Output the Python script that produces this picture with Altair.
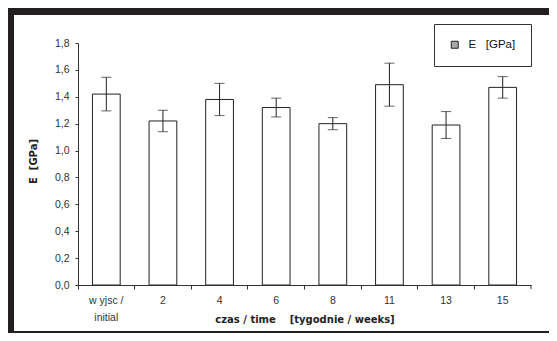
import altair as alt
import pandas as pd

categories = ["w yjsc /", "2", "4", "6", "8", "11", "13", "15"]
means = [1.42, 1.22, 1.38, 1.32, 1.20, 1.49, 1.19, 1.47]
errors = [0.125, 0.08, 0.12, 0.07, 0.045, 0.16, 0.10, 0.08]
y_ticks = [0.0, 0.2, 0.4, 0.6, 0.8, 1.0, 1.2, 1.4, 1.6, 1.8]
series_name = "E\u00a0\u00a0\u00a0[GPa]"
x_title = "czas / time\u00a0\u00a0\u00a0\u00a0[tygodnie / weeks]"
y_title = "E\u00a0\u00a0[GPa]"

df = pd.DataFrame({"cat": categories, "E": means, "err": errors})
df["lo"] = df["E"] - df["err"]
df["hi"] = df["E"] + df["err"]
df["series"] = series_name

W, H = 453, 242
TOTAL_W, TOTAL_H = 541, 325
PAD_L, PAD_T = 70, 35
INK = "#222222"
FRAME = "#231f20"
FONT = "Liberation Sans"
TFONT = "DejaVu Sans"

x_axis = alt.Axis(
    title=x_title,
    bandPosition=0,
    tickSize=4,
    labelAngle=0,
    labelPadding=6,
    labelLineHeight=17,
    labelExpr="datum.value == 'w yjsc /' ? ['w yjsc /', 'initial'] : datum.label",
    titleY=34,
    titleBaseline="middle",
    zindex=1,
)
y_axis = alt.Axis(
    values=y_ticks,
    labelExpr="replace(format(datum.value, '.1f'), '.', ',')",
    labelOverlap=False,
    tickSize=3,
    labelPadding=6,
    title=y_title,
    titleX=-45,
    titleY=118,
    titleAlign="center",
    titleBaseline="middle",
    zindex=1,
)
x_scale = alt.Scale(paddingInner=0, paddingOuter=0)
y_scale = alt.Scale(domain=[0, 1.8], nice=False, zero=True)


def X(**kw):
    return alt.X("cat:N", sort=categories, scale=x_scale, axis=x_axis, **kw)


def Y(field):
    return alt.Y(field, type="quantitative", scale=y_scale, axis=y_axis)


base = alt.Chart(df)
one = alt.Data(values=[{"a": 1}])

# page decoration: white sheet with a dark frame on top, left and bottom
sheet = alt.Chart(one).mark_rect(color="white").encode(
    x=alt.value(-PAD_L), x2=alt.value(TOTAL_W - PAD_L),
    y=alt.value(-PAD_T), y2=alt.value(TOTAL_H - PAD_T),
)
frame_top = alt.Chart(one).mark_rect(color=FRAME).encode(
    x=alt.value(-PAD_L), x2=alt.value(TOTAL_W - PAD_L),
    y=alt.value(-PAD_T), y2=alt.value(-PAD_T + 7),
)
frame_left = alt.Chart(one).mark_rect(color=FRAME).encode(
    x=alt.value(-PAD_L), x2=alt.value(-PAD_L + 6),
    y=alt.value(-PAD_T), y2=alt.value(TOTAL_H - PAD_T),
)
frame_bottom = alt.Chart(one).mark_rect(color=FRAME).encode(
    x=alt.value(-PAD_L), x2=alt.value(TOTAL_W - PAD_L),
    y=alt.value(TOTAL_H - PAD_T - 2), y2=alt.value(TOTAL_H - PAD_T),
)

bars = base.mark_bar(
    width=alt.RelativeBandSize(0.49), fill="white", stroke=INK, strokeWidth=1
).encode(x=X(), y=Y("E"))

err_rule = base.mark_rule(color=INK, strokeWidth=1).encode(
    x=X(), y=Y("lo"), y2="hi:Q"
)
cap_hi = base.mark_tick(color=INK, size=10, thickness=1).encode(x=X(), y=Y("hi"))
cap_lo = base.mark_tick(color=INK, size=10, thickness=1).encode(x=X(), y=Y("lo"))

end_tick = base.transform_filter(alt.datum.cat == categories[-1]).mark_rule(
    color="#333333", strokeWidth=1
).encode(
    x=X(bandPosition=1),
    y=alt.value(H),
    y2=alt.value(H + 4),
)

legend_layer = base.mark_square(opacity=0).encode(
    x=X(),
    y=Y("E"),
    color=alt.Color(
        "series:N",
        scale=alt.Scale(range=["#a8a8a8"]),
        legend=alt.Legend(
            title=None,
            orient="none",
            legendX=356,
            legendY=-19,
            padding=15,
            strokeColor="#333333",
            fillColor="white",
            cornerRadius=0,
            symbolType="square",
            symbolSize=49,
            symbolOpacity=1,
            symbolStrokeColor=INK,
            symbolStrokeWidth=1,
            labelFont=FONT,
            labelFontSize=11.5,
            labelColor="#111111",
            labelOffset=8,
        ),
    ),
)

chart = (
    alt.layer(
        sheet, frame_top, frame_left, frame_bottom,
        bars, err_rule, cap_hi, cap_lo, end_tick, legend_layer,
    )
    .properties(
        width=W,
        height=H,
        autosize=alt.AutoSizeParams(type="none"),
        padding={
            "left": PAD_L,
            "top": PAD_T,
            "right": TOTAL_W - PAD_L - W,
            "bottom": TOTAL_H - PAD_T - H,
        },
        background="white",
    )
    .configure_view(stroke=None)
    .configure_axis(
        grid=False,
        domainColor="#333333",
        tickColor="#333333",
        labelFont=FONT,
        labelFontSize=10.5,
        labelColor="#333333",
        titleFont=TFONT,
        titleFontSize=10,
        titleFontWeight="bold",
        titleColor="#222222",
    )
)

chart.save("out.html", embed_options={"renderer": "svg", "actions": False})
